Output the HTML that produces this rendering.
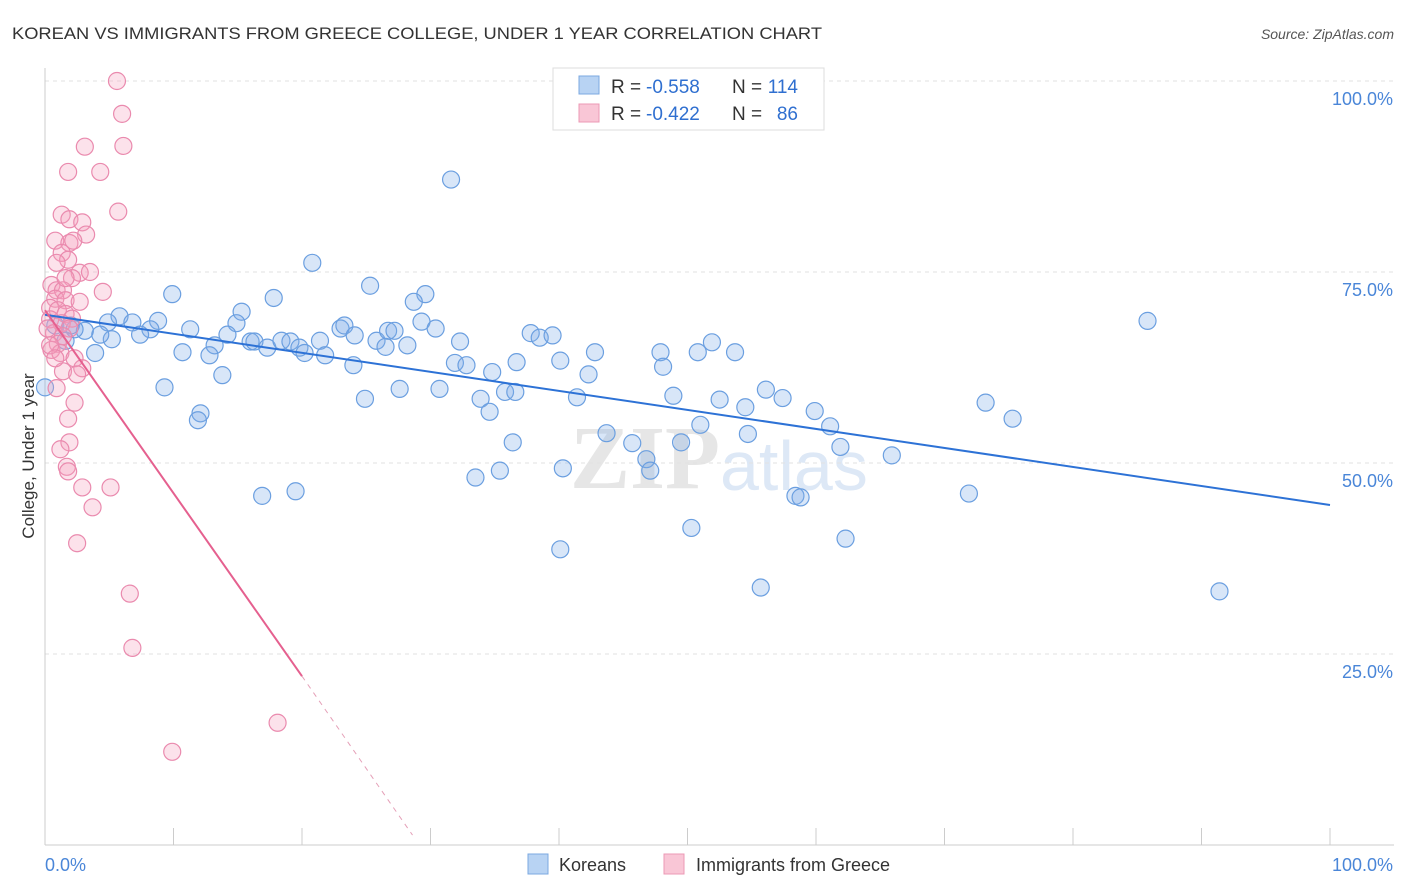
<!DOCTYPE html>
<html><head><meta charset="utf-8"><style>
body{margin:0;background:#fff;font-family:"Liberation Sans",sans-serif}
svg{display:block}
</style></head><body>
<svg id="c" width="1406" height="892">
<text x="12" y="39" font-size="17" fill="#333" textLength="810" lengthAdjust="spacingAndGlyphs">KOREAN VS IMMIGRANTS FROM GREECE COLLEGE, UNDER 1 YEAR CORRELATION CHART</text>
<text x="1394" y="39" font-size="14" fill="#555" font-style="italic" text-anchor="end">Source: ZipAtlas.com</text>
<text x="720" y="488" font-size="90" fill="#e6e6e6" text-anchor="end" font-family="Liberation Serif" font-weight="bold">ZIP</text>
<text x="720" y="490" font-size="70" fill="#dde8f6">atlas</text>
<g id="grid"></g><g id="axes"></g><g id="pts"></g><g id="lines"></g>
<g>
<rect x="553" y="68" width="271" height="62" fill="#fff" stroke="#ddd"/>
<rect x="579" y="76" width="20" height="18" fill="#b8d3f3" stroke="#7ba8e0"/>
<rect x="579" y="104" width="20" height="18" fill="#f9c6d6" stroke="#ec99b5"/>
<text x="611" y="93" font-size="19" fill="#333">R =</text>
<text x="646" y="93" font-size="19" fill="#2f6fd0">-0.558</text>
<text x="732" y="93" font-size="19" fill="#333">N =</text>
<text x="798" y="93" font-size="19" fill="#2f6fd0" text-anchor="end">114</text>
<text x="611" y="120" font-size="19" fill="#333">R =</text>
<text x="646" y="120" font-size="19" fill="#2f6fd0">-0.422</text>
<text x="732" y="120" font-size="19" fill="#333">N =</text>
<text x="798" y="120" font-size="19" fill="#2f6fd0" text-anchor="end">86</text>
</g>
<g>
<rect x="528" y="854" width="20" height="20" fill="#b8d3f3" stroke="#7ba8e0"/>
<text x="559" y="871" font-size="18" fill="#333">Koreans</text>
<rect x="664" y="854" width="20" height="20" fill="#f9c6d6" stroke="#ec99b5"/>
<text x="696" y="871" font-size="18" fill="#333">Immigrants from Greece</text>
</g>
<text x="34" y="456" font-size="17" fill="#333" text-anchor="middle" transform="rotate(-90 34 456)">College, Under 1 year</text>
</svg>
<script>
const yTicks=[25,50,75,100];
const yTickLabels=["25.0%","50.0%","75.0%","100.0%"];
const blueX=[31.6,20.8,25.3,29.6,17.8,9.9,15.3,28.7,14.9,5.8,6.8,8.8,4.9,8.2,7.4,11.3,5.2,4.3,3.9,3.1,2.3,13.2,14.2,10.7,12.8,13.8,9.3,12.1,11.9,16.0,16.3,17.3,18.4,19.1,19.8,20.2,21.4,21.8,23.0,23.3,24.1,24.0,24.9,25.8,26.7,27.2,26.5,28.2,27.6,29.3,30.4,30.7,31.9,32.8,32.3,33.9,34.6,34.8,35.8,36.6,36.7,37.8,38.5,39.5,40.1,41.4,42.3,42.8,36.4,33.5,35.4,40.3,40.1,43.7,45.7,46.8,47.1,47.9,48.1,48.9,49.5,51.0,50.3,50.8,51.9,52.5,53.7,54.5,54.7,56.1,57.4,55.7,58.4,58.8,59.9,61.1,61.9,62.3,65.9,71.9,73.2,75.3,85.8,91.4,16.9,19.5,0,0.8,2.0,1.6];
const blueY=[87.1,76.2,73.2,72.1,71.6,72.1,69.8,71.1,68.3,69.2,68.4,68.6,68.4,67.5,66.8,67.5,66.2,66.8,64.4,67.3,67.5,65.4,66.8,64.5,64.1,61.5,59.9,56.5,55.6,65.9,65.9,65.1,66.0,65.9,65.1,64.4,66.0,64.1,67.6,68.0,66.7,62.8,58.4,66.0,67.3,67.3,65.2,65.4,59.7,68.5,67.6,59.7,63.1,62.8,65.9,58.4,56.7,61.9,59.3,59.3,63.2,67.0,66.4,66.7,63.4,58.6,61.6,64.5,52.7,48.1,49.0,49.3,38.7,53.9,52.6,50.5,49.0,64.5,62.6,58.8,52.7,55.0,41.5,64.5,65.8,58.3,64.5,57.3,53.8,59.6,58.5,33.7,45.7,45.5,56.8,54.8,52.1,40.1,51.0,46.0,57.9,55.8,68.6,33.2,45.7,46.3,59.9,68.0,68.0,66.0];
const pinkX=[5.6,6.0,6.1,3.1,1.8,4.3,5.7,1.3,1.9,2.9,3.2,0.8,1.9,2.2,1.3,1.8,0.9,2.7,3.5,2.1,0.5,0.9,1.4,4.5,0.8,1.6,2.7,0.4,1.0,1.6,2.1,0.4,1.3,1.9,0.7,1.4,1.0,0.5,1.2,2.3,2.9,1.4,2.5,0.9,2.3,1.8,1.9,1.2,1.7,1.8,2.9,5.1,3.7,2.5,6.6,6.8,18.1,9.9,0.4,0.8,0.2,1.6];
const pinkY=[100,95.7,91.5,91.4,88.1,88.1,82.9,82.5,81.9,81.5,79.9,79.1,78.8,79.1,77.5,76.6,76.2,74.9,75.0,74.2,73.3,72.6,72.6,72.4,71.5,71.3,71.1,70.3,70.0,69.5,68.9,68.8,68.3,67.6,67.0,66.6,65.6,64.8,64.4,63.7,62.4,62.0,61.6,59.8,57.9,55.8,52.7,51.8,49.5,48.9,46.8,46.8,44.2,39.5,32.9,25.8,16.0,12.2,65.4,63.7,67.6,74.2];
const blueFit=[[0,69.4],[100,44.5]];
const pinkFit=[[0,70.0],[20,22.1],[28.6,1.3]];
const X=v=>45+v*12.85, Y=v=>845-v*7.64;
const NS="http://www.w3.org/2000/svg";
function mk(t,a,p){const e=document.createElementNS(NS,t);for(const k in a)e.setAttribute(k,a[k]);p.appendChild(e);return e;}
const grid=document.getElementById('grid'),axes=document.getElementById('axes'),pts=document.getElementById('pts'),lines=document.getElementById('lines');
yTicks.forEach((t,i)=>{
 const g=mk('line',{x1:45,x2:1394,y1:Y(t),y2:Y(t),stroke:'#e2e2e2','stroke-dasharray':'4 4'},grid);
 
 
 const l=mk('text',{x:1393,y:Y(t)+24,'font-size':18,fill:'#4a86d8','text-anchor':'end'},axes);
 l.textContent=yTickLabels[i];
 
 
});
const ax=mk('line',{x1:45,x2:45,y1:68,y2:845,stroke:'#ccc'},axes);


const bx=mk('line',{x1:45,x2:1394,y1:845,y2:845,stroke:'#ccc'},axes);


for(let i=0;i<=10;i++){const t=mk('line',{x1:X(i*10),x2:X(i*10),y1:828,y2:845,stroke:'#ccc'},axes);
 
 }
[["0.0%",45,'start'],["100.0%",1393,'end']].forEach(([s,x,a])=>{const t=mk('text',{x:x,y:871,'font-size':18,fill:'#4a86d8','text-anchor':a},axes);t.textContent=s;
 
 });
blueX.forEach((v,i)=>{const c=mk('circle',{cx:X(v),cy:Y(blueY[i]),r:8.5,fill:'rgba(125,172,232,0.3)',stroke:'#6b9fe0','stroke-width':1.2},pts);
 
 });
pinkX.forEach((v,i)=>{const c=mk('circle',{cx:X(v),cy:Y(pinkY[i]),r:8.5,fill:'rgba(244,160,190,0.3)',stroke:'#ea8aae','stroke-width':1.2},pts);
 
 });
const bl=mk('line',{x1:X(blueFit[0][0]),y1:Y(blueFit[0][1]),x2:X(blueFit[1][0]),y2:Y(blueFit[1][1]),stroke:'#2d72d6','stroke-width':2},lines);


const pl=mk('line',{x1:X(pinkFit[0][0]),y1:Y(pinkFit[0][1]),x2:X(pinkFit[1][0]),y2:Y(pinkFit[1][1]),stroke:'#e5608f','stroke-width':2},lines);


const pd=mk('line',{x1:X(pinkFit[1][0]),y1:Y(pinkFit[1][1]),x2:X(pinkFit[2][0]),y2:Y(pinkFit[2][1]),stroke:'#e5a0b8','stroke-width':1,'stroke-dasharray':'5 5'},lines);


</script>
</body></html>
